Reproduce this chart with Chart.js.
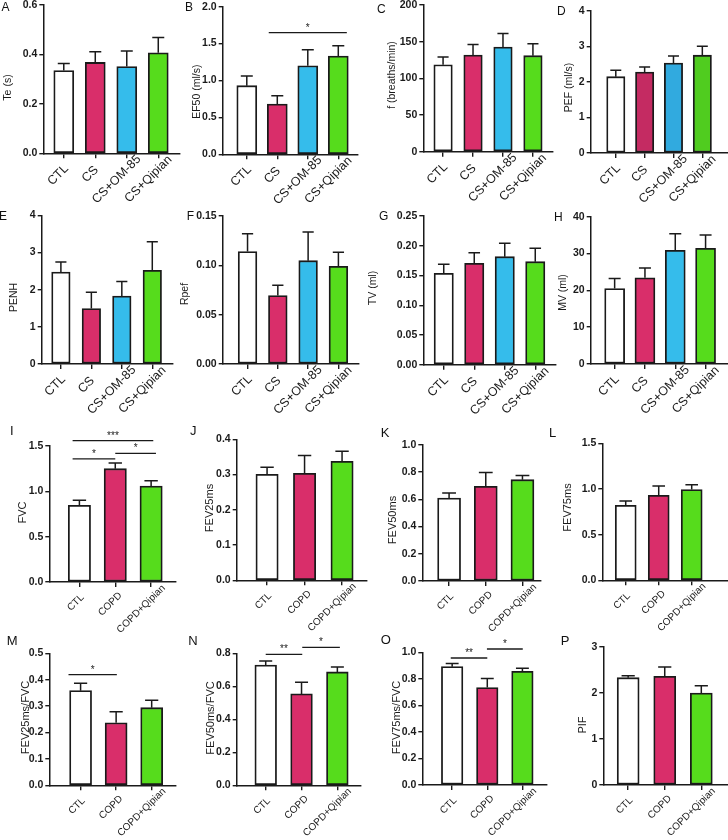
<!DOCTYPE html>
<html>
<head>
<meta charset="utf-8">
<script src="https://cdn.jsdelivr.net/npm/chart.js@4.4.1/dist/chart.umd.min.js"></script>
<style>
  html, body { margin: 0; padding: 0; background: #fff; }
  #fig { position: relative; width: 728px; height: 840px; overflow: hidden; }
  #fig canvas { position: absolute; }
  .lt { position: absolute; line-height: 1; color: #111; font-family: 'Liberation Sans', Arial, sans-serif; }
</style>
</head>
<body>
<div id="fig"></div>
<script>
// groups
const groups4 = ['CTL', 'CS', 'CS+OM-85', 'CS+Qipian'];
const groups3 = ['CTL', 'COPD', 'COPD+Qipian'];

// means and SEM
const teMean = [0.334, 0.367, 0.350, 0.406];
const teErr = [0.029, 0.043, 0.063, 0.062];
const ef50Mean = [0.93, 0.68, 1.20, 1.33];
const ef50Err = [0.13, 0.115, 0.216, 0.14];
const fMean = [118.6, 131.8, 142.7, 130.9];
const fErr = [10.4, 14.2, 18.3, 16.3];
const pefMean = [2.145, 2.276, 2.53, 2.75];
const pefErr = [0.18, 0.14, 0.20, 0.25];
const penhMean = [2.475, 1.49, 1.83, 2.52];
const penhErr = [0.27, 0.44, 0.39, 0.77];
const rpefMean = [0.1139, 0.0693, 0.1047, 0.099];
const rpefErr = [0.018, 0.0104, 0.029, 0.0142];
const tvMean = [0.1536, 0.1704, 0.1816, 0.1732];
const tvErr = [0.0151, 0.0179, 0.0224, 0.0224];
const mvMean = [20.5, 23.4, 30.9, 31.4];
const mvErr = [2.7, 2.7, 4.5, 3.6];
const fvcMean = [0.846, 1.25, 1.059];
const fvcErr = [0.055, 0.063, 0.059];
const fev25Mean = [0.3007, 0.3035, 0.3376];
const fev25Err = [0.0199, 0.0502, 0.0284];
const fev50Mean = [0.610, 0.696, 0.745];
const fev50Err = [0.037, 0.101, 0.030];
const fev75Mean = [0.821, 0.931, 0.993];
const fev75Err = [0.048, 0.102, 0.054];
const r25Mean = [0.3586, 0.237, 0.294];
const r25Err = [0.0277, 0.042, 0.028];
const r50Mean = [0.729, 0.554, 0.687];
const r50Err = [0.025, 0.070, 0.030];
const r75Mean = [0.892, 0.734, 0.857];
const r75Err = [0.023, 0.068, 0.022];
const pifMean = [2.328, 2.357, 1.996];
const pifErr = [0.043, 0.202, 0.159];

// significance brackets: [from group, to group, y value, label]
const ef50Sig = [[0.72, 3.28, 1.65, '*']];
const fvcSig = [[-0.19, 2.06, 1.559, '***'], [-0.19, 1.0, 1.357, '*'], [1.0, 2.135, 1.419, '*']];
const r25Sig = [[-0.34, 1.02, 0.419, '*']];
const r50Sig = [[0, 1.02, 0.794, '**'], [1.02, 2.07, 0.836, '*']];
const r75Sig = [[-0.04, 1.0, 0.957, '**'], [0.99, 2.01, 1.025, '*']];

const FONT = "'Liberation Sans', Arial, sans-serif";
const INK = '#1a1a1a';
const colors4 = ['#FFFFFF', '#D92E6A', '#35BCEB', '#56DC1C'];
const colors4d = ['#FFFFFF', '#C42B62', '#31AADF', '#50CC1F'];
const colors3 = ['#FFFFFF', '#D92E6A', '#56DC1C'];

// panel layout: box = canvas [x, y, w, h]; left/right/top/bottom = plot edges on the page
const panels = [
  { letter: 'A', title: 'Te (s)', cats: groups4, mean: teMean, err: teErr, max: 0.6, step: 0.2, dec: 1, colors: colors4,
    box: [0, 0, 182, 210], left: 43.3, right: 180, top: 4.7, bottom: 153.3, xr: [-0.65, 3.69], bar: 20, tx: 8.3, ty: 87.5, lx: 1.5, ly: 3 },
  { letter: 'B', title: 'EF50 (ml/s)', cats: groups4, mean: ef50Mean, err: ef50Err, max: 2.0, step: 0.5, dec: 1, colors: colors4, sig: ef50Sig,
    box: [176, 0, 188, 210], left: 222.7, right: 357.5, top: 6.7, bottom: 154.3, xr: [-0.79, 3.63], bar: 20, tx: 196.7, ty: 91.7, lx: 185, ly: 3 },
  { letter: 'C', title: 'f (breaths/min)', cats: groups4, mean: fMean, err: fErr, max: 200, step: 50, dec: 0, colors: colors4,
    box: [360, 0, 196, 210], left: 423.3, right: 553, top: 5, bottom: 151.7, xr: [-0.66, 3.67], bar: 18.5, tx: 392, ty: 75, lx: 377, ly: 5 },
  { letter: 'D', title: 'PEF (ml/s)', cats: groups4, mean: pefMean, err: pefErr, max: 4, step: 1, dec: 0, colors: colors4d,
    box: [540, 0, 188, 210], left: 590.7, right: 728, top: 10.7, bottom: 153, xr: [-0.87, 3.89], bar: 18.3, tx: 568.7, ty: 87.5, lx: 557, ly: 6.5 },

  { letter: 'E', title: 'PENH', cats: groups4, mean: penhMean, err: penhErr, max: 4, step: 1, dec: 0, colors: colors4,
    box: [0, 210, 182, 210], left: 41.7, right: 172.7, top: 215.3, bottom: 364, xr: [-0.63, 3.67], bar: 18.5, tx: 13.8, ty: 297.5, lx: -1, ly: 212 },
  { letter: 'F', title: 'Rpef', cats: groups4, mean: rpefMean, err: rpefErr, max: 0.15, step: 0.05, dec: 2, colors: colors4,
    box: [176, 210, 188, 210], left: 222.7, right: 358.4, top: 216, bottom: 364, xr: [-0.82, 3.66], bar: 18.7, tx: 185.3, ty: 294, lx: 186.7, ly: 212 },
  { letter: 'G', title: 'TV (ml)', cats: groups4, mean: tvMean, err: tvErr, max: 0.25, step: 0.05, dec: 2, colors: colors4,
    box: [360, 210, 200, 210], left: 423.3, right: 555.7, top: 216, bottom: 364.7, xr: [-0.67, 3.67], bar: 19.3, tx: 373.6, ty: 288, lx: 379, ly: 212 },
  { letter: 'H', title: 'MV (ml)', cats: groups4, mean: mvMean, err: mvErr, max: 40, step: 10, dec: 0, colors: colors4,
    box: [540, 210, 188, 210], left: 590.7, right: 728, top: 216.7, bottom: 364, xr: [-0.79, 3.74], bar: 20, tx: 562.7, ty: 292.5, lx: 554, ly: 213 },

  { letter: 'I', title: 'FVC', cats: groups3, mean: fvcMean, err: fvcErr, max: 1.5, step: 0.5, dec: 1, colors: colors3, sig: fvcSig,
    box: [0, 420, 182, 230], left: 49.3, right: 175.5, top: 446, bottom: 582, xr: [-0.84, 2.68], bar: 22.3, tx: 23.3, ty: 512.5, lx: 10, ly: 426 },
  { letter: 'J', title: 'FEV25ms', cats: groups3, mean: fev25Mean, err: fev25Err, max: 0.4, step: 0.1, dec: 1, colors: colors3,
    box: [176, 420, 194, 230], left: 236.7, right: 366.8, top: 439.3, bottom: 580.3, xr: [-0.81, 2.66], bar: 22.3, tx: 210, ty: 508, lx: 190, ly: 426 },
  { letter: 'K', title: 'FEV50ms', cats: groups3, mean: fev50Mean, err: fev50Err, max: 1.0, step: 0.2, dec: 1, colors: colors3,
    box: [360, 420, 190, 230], left: 422.3, right: 540.8, top: 445, bottom: 581, xr: [-0.73, 2.5], bar: 23, tx: 392.7, ty: 520, lx: 380.7, ly: 428 },
  { letter: 'L', title: 'FEV75ms', cats: groups3, mean: fev75Mean, err: fev75Err, max: 1.5, step: 0.5, dec: 1, colors: colors3,
    box: [540, 420, 188, 230], left: 602.3, right: 728, top: 443.3, bottom: 580.3, xr: [-0.71, 3.1], bar: 21, tx: 568, ty: 507.5, lx: 549, ly: 428 },

  { letter: 'M', title: 'FEV25ms/FVC', cats: groups3, mean: r25Mean, err: r25Err, max: 0.5, step: 0.1, dec: 1, colors: colors3, sig: r25Sig,
    box: [0, 630, 182, 210], left: 49.3, right: 175.5, top: 653.3, bottom: 785.3, xr: [-0.88, 2.67], bar: 22, tx: 26.3, ty: 717.5, lx: 6.7, ly: 636 },
  { letter: 'N', title: 'FEV50ms/FVC', cats: groups3, mean: r50Mean, err: r50Err, max: 0.8, step: 0.2, dec: 1, colors: colors3, sig: r50Sig,
    box: [176, 630, 194, 210], left: 236.7, right: 361, top: 653.3, bottom: 785.3, xr: [-0.81, 2.66], bar: 21.7, tx: 211.3, ty: 718, lx: 188.3, ly: 636 },
  { letter: 'O', title: 'FEV75ms/FVC', cats: groups3, mean: r75Mean, err: r75Err, max: 1.0, step: 0.2, dec: 1, colors: colors3, sig: r75Sig,
    box: [360, 630, 194, 210], left: 422.3, right: 547, top: 652.3, bottom: 785, xr: [-0.85, 2.7], bar: 21.5, tx: 396.8, ty: 717.5, lx: 380.7, ly: 635 },
  { letter: 'P', title: 'PIF', cats: groups3, mean: pifMean, err: pifErr, max: 3, step: 1, dec: 0, colors: colors3,
    box: [540, 630, 188, 210], left: 603.3, right: 728, top: 646.7, bottom: 785, xr: [-0.68, 2.73], bar: 22, tx: 583.3, ty: 725, lx: 560.7, ly: 636 }
];

// error bars, brackets, slanted group labels and y title
function makeExtras(p) {
  const bx = p.box[0], by = p.box[1];
  const small = by >= 420;
  return {
    id: 'extras' + p.letter,
    afterDatasetsDraw(chart) {
      const ctx = chart.ctx, ys = chart.scales.y, xs = chart.scales.x;
      ctx.save();
      ctx.strokeStyle = INK;
      ctx.lineWidth = 1.5;
      chart.getDatasetMeta(0).data.forEach((el, i) => {
        const yT = ys.getPixelForValue(p.mean[i] + p.err[i]);
        const half = el.width * 0.3;
        ctx.beginPath();
        ctx.moveTo(el.x, el.y);
        ctx.lineTo(el.x, yT);
        ctx.moveTo(el.x - half, yT);
        ctx.lineTo(el.x + half, yT);
        ctx.stroke();
      });
      ctx.lineWidth = 1.3;
      ctx.fillStyle = INK;
      ctx.font = '10px ' + FONT;
      ctx.textAlign = 'center';
      ctx.textBaseline = 'alphabetic';
      (p.sig || []).forEach(s => {
        const x1 = xs.getPixelForValue(s[0]), x2 = xs.getPixelForValue(s[1]);
        const y = ys.getPixelForValue(s[2]);
        ctx.beginPath();
        ctx.moveTo(x1, y);
        ctx.lineTo(x2, y);
        ctx.stroke();
        ctx.fillText(s[3], (x1 + x2) / 2, y - 2);
      });
      ctx.restore();
    },
    afterDraw(chart) {
      const ctx = chart.ctx, xs = chart.scales.x;
      // group labels, slanted 45 degrees under each tick
      const f = small ? 0.3 : 0.34, ax = small ? -1 : -3, ay = small ? 18 : 19;
      ctx.save();
      ctx.font = (small ? 10 : 12.5) + 'px ' + FONT;
      ctx.fillStyle = INK;
      ctx.textAlign = 'right';
      ctx.textBaseline = 'middle';
      p.cats.forEach((c, i) => {
        const L = ctx.measureText(c).width;
        ctx.save();
        ctx.translate(xs.getPixelForValue(i) + ax, xs.top + ay);
        ctx.rotate(-Math.PI / 4);
        ctx.fillText(c, f * L, 0);
        ctx.restore();
      });
      ctx.restore();

      ctx.save();
      ctx.translate(p.tx - bx, p.ty - by);
      ctx.rotate(-Math.PI / 2);
      ctx.font = (small ? 11 : 10.5) + 'px ' + FONT;
      ctx.fillStyle = INK;
      ctx.textAlign = 'center';
      ctx.textBaseline = 'middle';
      ctx.fillText(p.title, 0, 0);
      ctx.restore();
    }
  };
}

const fig = document.getElementById('fig');
Chart.defaults.color = INK;

panels.forEach(p => {
  const [bx, by, bw, bh] = p.box;
  const small = by >= 420;
  const cv = document.createElement('canvas');
  cv.width = bw;
  cv.height = bh;
  cv.style.left = bx + 'px';
  cv.style.top = by + 'px';
  cv.style.width = bw + 'px';
  cv.style.height = bh + 'px';
  fig.appendChild(cv);

  const lbl = document.createElement('div');
  lbl.className = 'lt';
  const ls = small ? 13 : 12;
  lbl.style.fontSize = ls + 'px';
  lbl.style.left = p.lx + 'px';
  lbl.style.top = (p.ly - 0.15 * ls) + 'px';
  lbl.textContent = p.letter;
  fig.appendChild(lbl);

  const axisBorder = { display: true, color: INK, width: 1.5 };

  new Chart(cv.getContext('2d'), {
    type: 'bar',
    data: {
      datasets: [{
        data: p.mean.map((v, i) => ({ x: i, y: v })),
        backgroundColor: p.colors,
        borderColor: INK,
        borderWidth: 1.8,
        borderSkipped: false,
        barThickness: p.bar
      }]
    },
    options: {
      responsive: false,
      animation: false,
      layout: { padding: { left: 0, top: p.top - by, right: bx + bw - p.right, bottom: 0 } },
      plugins: { legend: { display: false }, tooltip: { enabled: false } },
      scales: {
        x: {
          type: 'linear',
          offset: false,
          bounds: 'data',
          min: p.xr[0],
          max: p.xr[1],
          afterBuildTicks: s => { s.ticks = p.cats.map((c, i) => ({ value: i })); },
          afterFit: s => { s.height = by + bh - p.bottom; s.paddingLeft = 0; s.paddingRight = 0; },
          grid: { display: true, offset: false, drawOnChartArea: false, drawTicks: true, tickLength: 5, color: INK, lineWidth: 1.4 },
          border: axisBorder,
          ticks: { display: false, autoSkip: false, callback: v => p.cats[v] }
        },
        y: {
          min: 0,
          max: p.max,
          afterFit: s => { s.width = p.left - bx; s.paddingTop = 0; s.paddingBottom = 0; },
          grid: { display: true, drawOnChartArea: false, drawTicks: true, tickLength: 4, color: INK, lineWidth: 1.4 },
          border: axisBorder,
          ticks: {
            stepSize: p.step, padding: 2, color: INK,
            font: { family: FONT, size: 10.5, weight: 'bold' },
            callback: v => v.toFixed(p.dec)
          }
        }
      }
    },
    plugins: [makeExtras(p)]
  });
});
</script>
</body>
</html>
